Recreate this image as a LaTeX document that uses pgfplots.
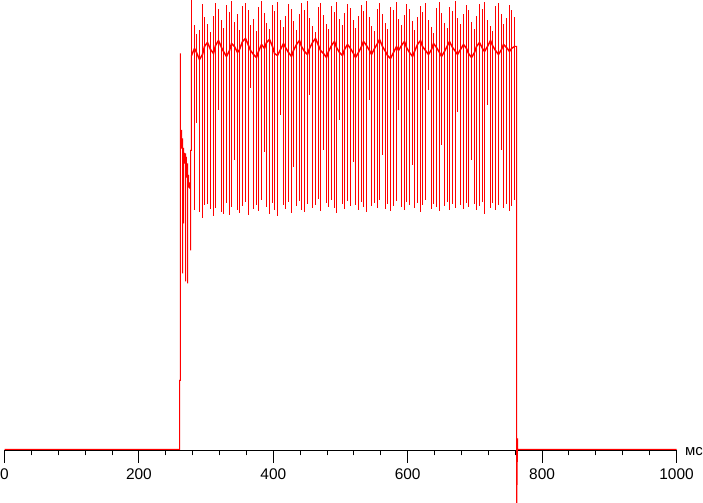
\documentclass[border=0pt]{standalone}
\usepackage{fontspec}
\setmainfont{Liberation Sans}
\usepackage{pgfplots}
\pgfplotsset{compat=1.18}
\usepackage{pgfplotstable}
\pgfplotstableread{
t mid top low
278.27 395 450 300
282.74 402 425 240
285.71 398 416 327
290.18 391 420 238
294.64 396 446 232
297.62 404 433 245
302.08 408 426 246
306.55 401 418 241
311.01 397 434 234
313.99 405 447 242
318.45 410 441 340
322.92 403 430 238
325.89 399 422 236
330.36 394 445 247
334.82 400 438 235
337.80 407 449 243
342.26 404 428 290
346.73 398 436 240
349.70 401 420 237
354.17 409 444 244
358.63 412 447 248
363.10 405 440 235
366.07 400 425 362
370.54 396 431 241
375.00 393 419 245
377.98 399 443 239
382.44 406 449 250
386.90 402 437 298
389.88 408 427 243
394.35 411 421 236
398.81 404 445 247
401.79 397 439 240
406.25 395 448 234
410.71 401 430 335
415.18 407 423 245
418.15 403 434 241
422.62 398 446 248
427.08 394 441 237
430.06 400 429 283
434.52 406 420 244
438.99 410 436 249
441.96 404 447 240
446.43 399 440 238
450.89 396 449 246
453.87 402 432 355
458.33 408 424 242
462.80 412 418 245
467.26 405 443 251
470.24 400 447 239
474.70 397 435 300
479.17 393 426 247
482.14 399 421 243
486.61 405 444 250
491.07 409 438 242
494.05 403 448 237
498.51 398 431 330
502.98 395 425 246
505.95 401 437 241
510.42 406 446 249
514.88 402 442 244
519.35 397 430 288
522.32 393 422 245
526.79 398 434 240
531.25 404 445 248
534.23 409 439 243
538.69 405 449 238
543.15 400 433 350
546.13 396 424 244
550.60 402 419 247
555.06 407 441 242
558.04 411 447 250
562.50 404 436 295
566.96 399 427 241
569.94 395 421 246
574.40 392 443 239
578.87 398 440 244
583.33 404 448 249
586.31 400 431 340
590.77 405 425 243
595.24 409 435 240
598.21 403 446 248
602.68 398 441 245
607.14 394 429 285
610.12 399 420 242
614.58 406 433 247
619.05 410 444 238
622.02 404 438 245
626.49 400 447 250
630.95 396 430 360
635.42 401 423 241
638.39 407 417 246
642.86 403 442 243
647.32 398 448 239
650.30 394 437 305
654.76 399 427 244
659.23 405 422 248
662.20 409 443 240
666.67 403 439 246
671.13 399 449 242
674.11 396 432 338
678.57 401 426 245
683.04 406 436 241
687.50 402 445 247
690.48 397 440 243
694.94 393 428 290
699.40 398 421 246
702.38 404 434 240
706.85 408 446 244
711.31 402 441 248
714.29 399 448 236
718.75 404 430 345
723.21 410 424 242
726.19 405 419 247
730.65 400 444 240
735.12 396 447 245
739.58 401 436 300
742.56 406 426 242
747.02 403 432 246
751.49 399 445 239
754.46 402 440 244
758.93 404 433 250
}\cycles

\begin{document}
\begin{tikzpicture}
\useasboundingbox (-5bp,0) rectangle (698bp,503bp);
\begin{axis}[
  at={(-0.5bp,0)}, anchor=south west,
  scale only axis, width=672bp, height=503bp,
  xmin=0, xmax=1000, ymin=-52.5, ymax=450.5,
  axis x line*=middle, axis y line=none,
  x axis line style={-, black, line width=1bp},
  xtick={0,200,...,1000},
  minor x tick num=4,
  tick align=outside,
  major tick length=12bp, minor tick length=5bp,
  every tick/.style={black, line width=1bp},
  xticklabel style={font=\fontsize{15.5}{18}\selectfont, text=black, yshift=-3bp},
  /pgf/number format/assume math mode=true,
  /pgf/number format/1000 sep={},
  clip=true,
]
% baseline and onset
\addplot[red, line width=1bp, mark=none] coordinates {
(0,1)(260.42,1)(260.42,70)(261.90,70)(261.90,397)(261.90,150)(261.90,320)(263.39,320)(263.39,302)(264.88,312)(264.88,177)(264.88,302)(266.37,302)(266.37,227)(266.37,297)(267.86,297)(267.86,287)(269.35,297)(269.35,169)(269.35,293)(270.83,293)(270.83,273)(272.32,287)(272.32,167)(272.32,275)(273.81,275)(273.81,263)(275.30,268)(275.30,262)(276.79,267)(276.79,200)(276.79,300)(278.27,300)(278.27,395)
};
% mean level of the oscillation
\addplot[red, line width=1.5bp, mark=none] table[x=t, y=mid] {\cycles};
% peak-to-peak swing of each cycle
\addplot[red, line width=1bp, mark=none, -,
  quiver={u=0, v=\thisrow{low}-\thisrow{top}},
  quiver/every arrow/.style={-, red, line width=1bp}]
  table[x=t, y=top] {\cycles};
% switch-off and tail
\addplot[red, line width=1bp, mark=none] coordinates {
(758.93,404)(760.42,404)(761.90,404)(761.90,-80)(763.39,12)(763.39,1)(1000,1)
};
\end{axis}
\node[anchor=base west, inner sep=0pt, font=\fontsize{15}{18}\selectfont] at (680bp,47bp) {мс};
\end{tikzpicture}
\end{document}
